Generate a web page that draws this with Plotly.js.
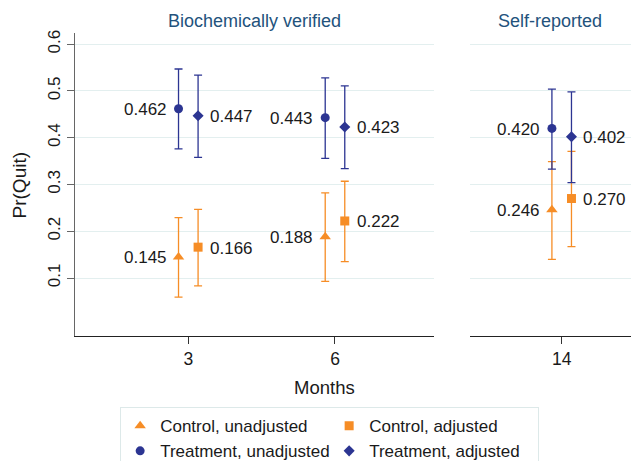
<!DOCTYPE html>
<html><head><meta charset="utf-8">
<script src="https://cdn.plot.ly/plotly-3.0.1.min.js"></script>
<style>html,body{margin:0;padding:0;background:#fff}#chart{width:631px;height:461px}</style>
</head><body><div id="chart"></div>
<script>
// ---- data ----
const months = [3, 6, 14];
const panelOf = ['x', 'x', 'x2'];
const tickLabels = ['3', '6', '14'];
const panelTitles = ['Biochemically verified', 'Self-reported'];

const ctrlUnadj   = [0.145, 0.188, 0.246];
const ctrlUnadjLo = [0.059, 0.093, 0.140];
const ctrlUnadjHi = [0.229, 0.282, 0.349];

const ctrlAdj   = [0.166, 0.222, 0.270];
const ctrlAdjLo = [0.083, 0.135, 0.167];
const ctrlAdjHi = [0.247, 0.307, 0.371];

const trtUnadj   = [0.462, 0.443, 0.420];
const trtUnadjLo = [0.376, 0.356, 0.333];
const trtUnadjHi = [0.547, 0.528, 0.504];

const trtAdj   = [0.447, 0.423, 0.402];
const trtAdjLo = [0.358, 0.334, 0.304];
const trtAdjHi = [0.534, 0.511, 0.498];

// ---- styles ----
const NAVY = '#2c3592', ORANGE = '#f68d26';
const FONT = 'Liberation Sans, Arial, sans-serif';
const OFF = 0.2;

const series = [
  {name: 'Control, unadjusted', y: ctrlUnadj, lo: ctrlUnadjLo, hi: ctrlUnadjHi, color: ORANGE, symbol: 'triangle-up', size: 10, side: -1},
  {name: 'Control, adjusted', y: ctrlAdj, lo: ctrlAdjLo, hi: ctrlAdjHi, color: ORANGE, symbol: 'square', size: 9, side: 1},
  {name: 'Treatment, unadjusted', y: trtUnadj, lo: trtUnadjLo, hi: trtUnadjHi, color: NAVY, symbol: 'circle', size: 9, side: -1},
  {name: 'Treatment, adjusted', y: trtAdj, lo: trtAdjLo, hi: trtAdjHi, color: NAVY, symbol: 'diamond', size: 8.5, side: 1}
];

const traces = [];
const labelAnns = [];
series.forEach(s => {
  ['x', 'x2'].forEach((ax, k) => {
    const idx = months.map((m, i) => i).filter(i => panelOf[i] === ax);
    const xs = idx.map(i => months[i] + s.side * OFF);
    traces.push({
      type: 'scatter', mode: 'markers',
      name: s.name, legendgroup: s.name, showlegend: k === 0,
      xaxis: ax, yaxis: ax === 'x' ? 'y' : 'y2',
      x: xs,
      y: idx.map(i => s.y[i]),
      cliponaxis: false,
      marker: {color: s.color, symbol: s.symbol, size: s.size, line: {width: 0}},
      error_y: {type: 'data', symmetric: false,
        array: idx.map(i => s.hi[i] - s.y[i]),
        arrayminus: idx.map(i => s.y[i] - s.lo[i]),
        color: s.color, thickness: 1.3, width: 4}
    });
    idx.forEach((i, j) => {
      labelAnns.push({
        text: s.y[i].toFixed(3), xref: ax, yref: ax === 'x' ? 'y' : 'y2',
        x: xs[j], y: s.y[i], showarrow: false,
        xanchor: s.side < 0 ? 'right' : 'left', yanchor: 'middle',
        xshift: s.side * 10, yshift: -1,
        font: {family: FONT, size: 17, color: '#1a1a1a'}
      });
    });
  });
});

const yr = [-0.024, 0.624];
const commonY = {range: yr, tickvals: [0.1, 0.2, 0.3, 0.4, 0.5, 0.6], showgrid: true,
  gridcolor: '#e3efef', gridwidth: 1, zeroline: false, fixedrange: true};

const layout = {
  width: 631, height: 461,
  margin: {l: 75, r: 0, t: 33, b: 125, autoexpand: false},
  paper_bgcolor: '#fff', plot_bgcolor: '#fff',
  font: {family: FONT, size: 16, color: '#1a1a1a'},
  showlegend: true,
  legend: {orientation: 'h', x: 0.458, xanchor: 'center', y: -0.235, yanchor: 'top',
    entrywidth: 164, entrywidthmode: 'pixels', itemwidth: 30,
    bordercolor: '#dde9e9', borderwidth: 1, bgcolor: '#fff',
    font: {family: FONT, size: 17, color: '#1a1a1a'}, tracegroupgap: 0},
  xaxis: {domain: [0, 0.6457], range: [0.683, 8.025], tickvals: [months[0], months[1]],
    ticktext: [tickLabels[0], tickLabels[1]], ticks: 'outside', ticklen: 7, tickcolor: '#333',
    showline: true, linecolor: '#222', linewidth: 1.3, showgrid: false, zeroline: false,
    tickfont: {size: 17.5}, fixedrange: true, automargin: false},
  xaxis2: {domain: [0.7104, 1], range: [12.125, 15.417], tickvals: [months[2]],
    ticktext: [tickLabels[2]], ticks: 'outside', ticklen: 7, tickcolor: '#333',
    showline: true, linecolor: '#222', linewidth: 1.3, showgrid: false, zeroline: false,
    tickfont: {size: 17.5}, fixedrange: true, automargin: false},
  yaxis: Object.assign({}, commonY, {anchor: 'x', showline: true, linecolor: '#666', linewidth: 1.3,
    ticks: 'outside', ticklen: 7, tickcolor: '#666', tickangle: -90, tickfont: {size: 17}, automargin: false}),
  yaxis2: Object.assign({}, commonY, {anchor: 'x2', showline: false, showticklabels: false, ticks: ''}),
  annotations: [
    {text: panelTitles[0], xref: 'x domain', x: 0.5, yref: 'paper', y: 1.04, yanchor: 'middle',
      showarrow: false, font: {size: 18, color: '#23527c'}},
    {text: panelTitles[1], xref: 'x2 domain', x: 0.5, yref: 'paper', y: 1.04, yanchor: 'middle',
      showarrow: false, font: {size: 18, color: '#23527c'}},
    {text: 'Months', xref: 'paper', x: 0.4496, xanchor: 'center', yref: 'paper', y: -0.1716, yanchor: 'middle',
      showarrow: false, font: {size: 18.5}},
    {text: 'Pr(Quit)', xref: 'paper', x: -0.099, xanchor: 'center', yref: 'paper', y: 0.5, yanchor: 'middle',
      textangle: -90, showarrow: false, font: {size: 19}}
  ].concat(labelAnns)
};

Plotly.newPlot('chart', traces, layout, {displayModeBar: false, staticPlot: true});
</script></body></html>
